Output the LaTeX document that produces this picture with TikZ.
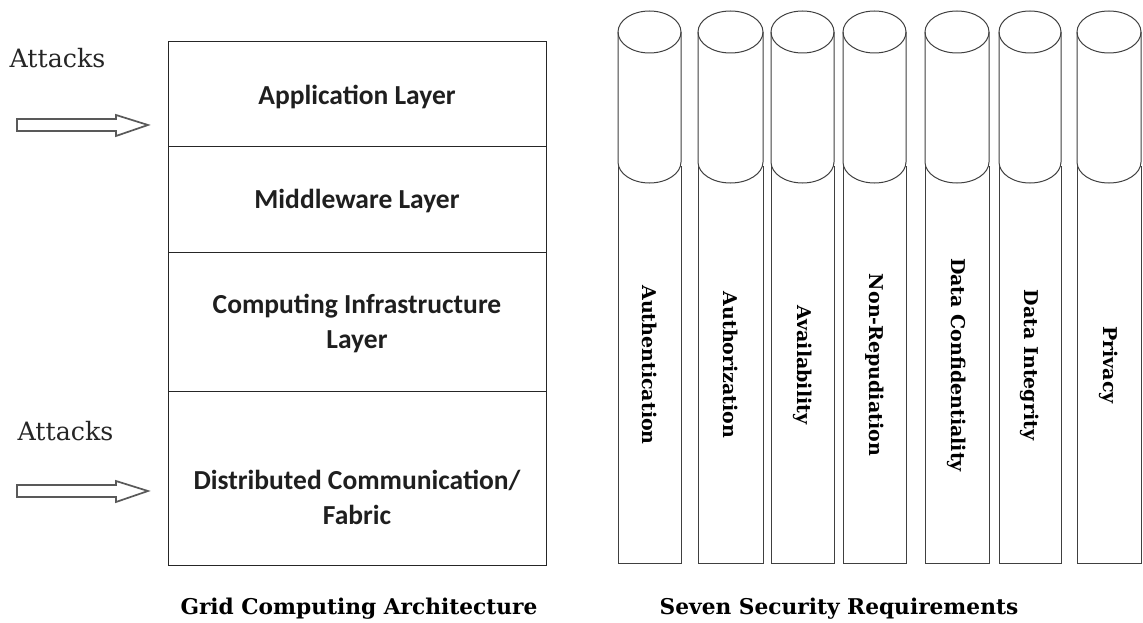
\documentclass[tikz,border=0pt]{standalone}
\usepackage{fontspec}
\setmainfont{DejaVu Serif}
\newfontfamily\boxfont{Carlito}
\usetikzlibrary{calc}
\begin{document}
\begin{tikzpicture}[x=1pt,y=-1pt,
  layerbox/.style={draw=black!85, line width=1pt, minimum width=378pt, inner sep=0pt},
  layertext/.style={align=center, font=\boxfont\bfseries\fontsize{27.5}{35}\selectfont, inner sep=0pt, text=black!88},
  attack/.style={font=\fontsize{25.3}{28}\selectfont, inner sep=0pt, text=black!85},
  blockarrow/.style={draw=black!65, line width=1.7pt, fill=white},
  pillarline/.style={draw=black!75, line width=1pt},
  pillartext/.style={rotate=-90, font=\bfseries\fontsize{19}{22}\selectfont, inner sep=0pt},
  caption/.style={font=\bfseries\fontsize{21.7}{24}\selectfont, inner sep=0pt}]
\useasboundingbox (0,0) rectangle (1143,623);

% left architecture stack
\node[layerbox, minimum height=105pt] (app) at (357,94.5) {};
\node[layerbox, minimum height=105pt] (mid) at (357,199.5) {};
\node[layerbox, minimum height=139pt] (comp) at (357,321.5) {};
\node[layerbox, minimum height=174pt] (dist) at (357,478) {};

\node[layertext] (appt) at (357,97) {Application Layer};
\node[layertext] (midt) at (357,201) {Middleware Layer};
\node[layertext] (compt) at (357,323) {Computing Infrastructure\\Layer};
\node[layertext] (distt) at (357,497) {Distributed Communication/\\Fabric};

% attacks
\node[attack] (att1) at (57.5,58) {Attacks};
\node[attack] (att2) at (65.5,431) {Attacks};
\draw[blockarrow] (17,119) -- (116,119) -- (116,115) -- (148,125) -- (116,136) -- (116,131) -- (17,131) -- cycle;
\draw[blockarrow] (17,485) -- (116,485) -- (116,481) -- (148,491) -- (116,502) -- (116,497) -- (17,497) -- cycle;

% pillars
\foreach \i/\l/\r/\t in {1/618/681/Authentication, 2/698/763/Authorization, 3/771/834/Availability, 4/843/906/Non-Repudiation, 5/925/989/Data Confidentiality, 6/999/1061/Data Integrity, 7/1077/1141/Privacy}{
  \pgfmathsetmacro{\cx}{(\l+\r)/2}
  \pgfmathsetmacro{\rx}{(\r-\l)/2}
  \draw[pillarline] (\l,166) -- (\l,563) -- (\r,563) -- (\r,166);
  \draw[pillarline, fill=white] (\l,32) -- (\l,162) arc[start angle=180, end angle=0, x radius=\rx, y radius=21] -- (\r,32);
  \draw[pillarline] (\cx,32) ellipse [x radius=\rx, y radius=21];
  \node[pillartext] (req\i) at (\cx,365) {\t};
}

% captions
\node[caption] (cap1) at (359,609) {Grid Computing Architecture};
\node[caption] (cap2) at (839,609) {Seven Security Requirements};
\end{tikzpicture}
\end{document}
